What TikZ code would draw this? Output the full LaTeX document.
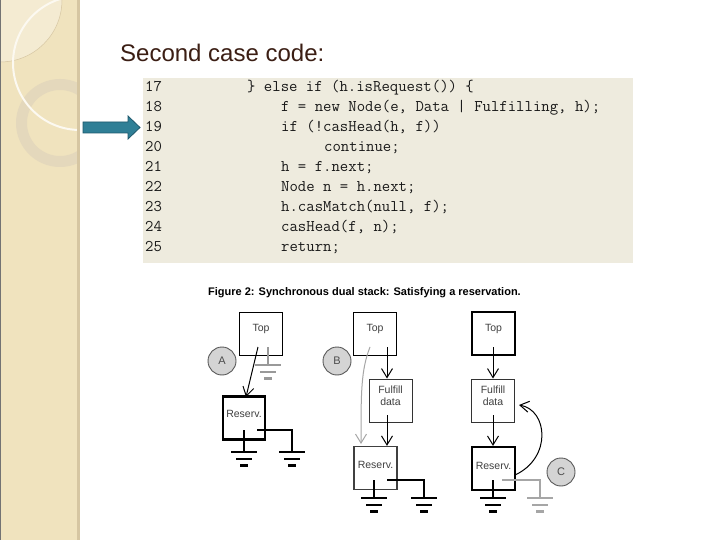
\documentclass[tikz,border=0pt]{standalone}
\usepackage{fontspec}
\setmainfont{Liberation Sans}
\usetikzlibrary{arrows.meta}

\definecolor{stripcol}{RGB}{240,227,190}
\definecolor{striplight}{RGB}{244,235,210}
\definecolor{ringcol}{RGB}{228,216,188}
\definecolor{edgecol}{RGB}{214,198,162}
\definecolor{codebg}{RGB}{238,235,222}
\definecolor{titlecol}{RGB}{59,30,20}
\definecolor{arrowblue}{RGB}{47,127,150}
\definecolor{arrowdark}{RGB}{30,88,108}

\tikzset{
  box/.style={draw=black, line width=1.3pt, minimum width=43pt, minimum height=43pt, inner sep=0pt},
  boxtext/.style={inner sep=0pt, text=black!75, font=\fontsize{10.5}{12}\selectfont, align=center},
  letter/.style={circle, draw=black!65, fill=black!17, line width=0.9pt, minimum size=28pt, inner sep=0pt, text=black!70, font=\fontsize{11}{11}\selectfont},
  arr/.style={-{Straight Barb[length=9pt,width=11pt]}, line width=1pt},
  wire/.style={line width=2.2pt},
  codefont/.style={anchor=base west, inner sep=0pt, text=black!90, font=\ttfamily\fontsize{16.3}{16}\selectfont},
  ground/.pic={
    \draw[line width=2pt] (-13,0) -- (13,0);
    \draw[line width=2pt] (-8,7) -- (8,7);
    \draw[line width=3pt] (-4,13) -- (4,13);
  }
}

\begin{document}
\begin{tikzpicture}[x=1pt, y=-1pt]
        \useasboundingbox (0,0) rectangle (720,540);
        \fill[white] (0,0) rectangle (720,540);

        % Left decorative strip
        \fill[stripcol] (0,0) rectangle (78,540);
        \begin{scope}
          \clip (0,0) rectangle (77,540);
          \fill[striplight, draw=edgecol, line width=0.5pt] (0,0) circle (62);
          \fill[ringcol, even odd rule] (60,123) circle (44) (60,123) circle (33);
          \draw[white!70!striplight, line width=2pt] (80,63) circle (67);
        \end{scope}
        \fill[edgecol] (77,0) rectangle (80,540);
        \draw[black!55, line width=0.8pt] (0.4,0) -- (0.4,540);

        % Title
        \node[anchor=base west, inner sep=0pt, text=titlecol, font=\fontsize{24}{24}\selectfont] (title) at (120,62) {Second case code:};

        % Pointer arrow
        \filldraw[fill=arrowblue, draw=arrowdark, line width=0.8pt] (83,122) -- (128,122) -- (128,116) -- (140,127.5) -- (128,139) -- (128,133) -- (83,133) -- cycle;

        % Code listing
        \fill[codebg] (143,78) rectangle (633,263);
        \foreach \num/\cx/\codeline in {17/247/{\} else if (h.isRequest()) \{},
            18/281/{f = new Node(e, Data | Fulfilling, h);},
            19/281/{if (!casHead(h, f))},
            20/324/{continue;},
            21/281/{h = f.next;},
            22/281/{Node n = h.next;},
            23/281/{h.casMatch(null, f);},
            24/281/{casHead(f, n);},
            25/281/{return;}} {
          \node[codefont] (ln\num) at (145, {92+(\num-17)*19.9}) {\num};
          \node[codefont] (code\num) at (\cx, {92+(\num-17)*19.9}) {\codeline};
        }

        % Caption
        \node[inner sep=0pt, font=\bfseries\fontsize{11}{11}\selectfont] (caption) at (364.5,293) {Figure 2: Synchronous dual stack: Satisfying a reservation.};

        % Panel A
        \node[box] (topA) at (261,334) {};
        \node[boxtext] (topAt) at ([yshift=5pt]topA.center) {Top};
        \node[box, line width=2.4pt, minimum width=42pt] (resA) at (244,418) {};
        \node[boxtext] (resAt) at ([yshift=4pt]resA.center) {Reserv.};
        \node[letter] (circA) at (222,361) {A};
        \coordinate (gA0) at (268,347);
        \coordinate (gA1) at (268,365);
        \draw[black!40, line width=2pt] (gA0) -- (gA1);
        \pic[black!40] at (gA1) {ground};
        \coordinate (aA) at (258,347);
        \draw[arr] (aA) -- (246,397);
        \coordinate (wA0) at (244,430);
        \coordinate (wA1) at (244,452);
        \draw[line width=1.3pt] (wA0) -- (wA1);
        \pic at (wA1) {ground};
        \coordinate (wA2) at (257,430);
        \coordinate (wA3) at (292,452);
        \draw[wire] (wA2) -| (wA3);
        \pic at (wA3) {ground};

        % Panel B
        \node[box, line width=1.8pt] (topB) at (375,334) {};
        \node[boxtext] (topBt) at ([yshift=5pt]topB.center) {Top};
        \node[box, line width=1pt, draw=black!80] (fulB) at (390.5,400.5) {};
        \node[boxtext] (fulBt) at ([yshift=5pt]fulB.center) {Fulfill\\data};
        \node[box, line width=1.3pt, draw=black!75] (resB) at (375.5,468) {};
        \node[boxtext] (resBt) at ([yshift=3pt]resB.center) {Reserv.};
        \node[letter] (circB) at (337,361) {B};
        \coordinate (gB0) at (370,347);
        \coordinate (gB1) at (361,444);
        \draw[arr, black!35] (gB0) .. controls (361,370) and (361,392) .. (gB1);
        \coordinate (aB0) at (387,347);
        \draw[arr] (aB0) -- (aB0 |- fulB.north);
        \coordinate (aB1) at (387,415);
        \draw[arr] (aB1) -- (aB1 |- resB.north);
        \coordinate (wB0) at (374,480);
        \coordinate (wB1) at (374,498);
        \draw[line width=1.3pt] (wB0) -- (wB1);
        \pic at (wB1) {ground};
        \coordinate (wB2) at (387,480);
        \coordinate (wB3) at (424,498);
        \draw[line width=1.8pt] (wB2) -| (wB3);
        \pic at (wB3) {ground};

        % Panel C
        \node[box, line width=2pt] (topC) at (493.5,333.5) {};
        \node[boxtext] (topCt) at ([yshift=5pt]topC.center) {Top};
        \node[box, line width=1pt, draw=black!80] (fulC) at (493,400.5) {};
        \node[boxtext] (fulCt) at ([yshift=5pt]fulC.center) {Fulfill\\data};
        \node[box, line width=2.2pt] (resC) at (493.5,468.5) {};
        \node[boxtext] (resCt) at ([yshift=3pt]resC.center) {Reserv.};
        \node[letter] (circC) at (561,472) {C};
        \coordinate (aC0) at (493,347);
        \draw[arr] (aC0) -- (aC0 |- fulC.north);
        \coordinate (aC1) at (493,415);
        \draw[arr] (aC1) -- (aC1 |- resC.north);
        \coordinate (cC0) at (515,475);
        \coordinate (cC1) at (519,405);
        \draw[arr] (cC0) .. controls (552,458) and (548,410) .. (cC1);
        \coordinate (wC0) at (493,480);
        \coordinate (wC1) at (493,498);
        \draw[line width=2pt] (wC0) -- (wC1);
        \pic at (wC1) {ground};
        \coordinate (wC2) at (502,480);
        \coordinate (wC3) at (540,498);
        \draw[black!35, line width=1.8pt] (wC2) -| (wC3);
        \pic[black!35] at (wC3) {ground};

    \end{tikzpicture}
\end{document}
